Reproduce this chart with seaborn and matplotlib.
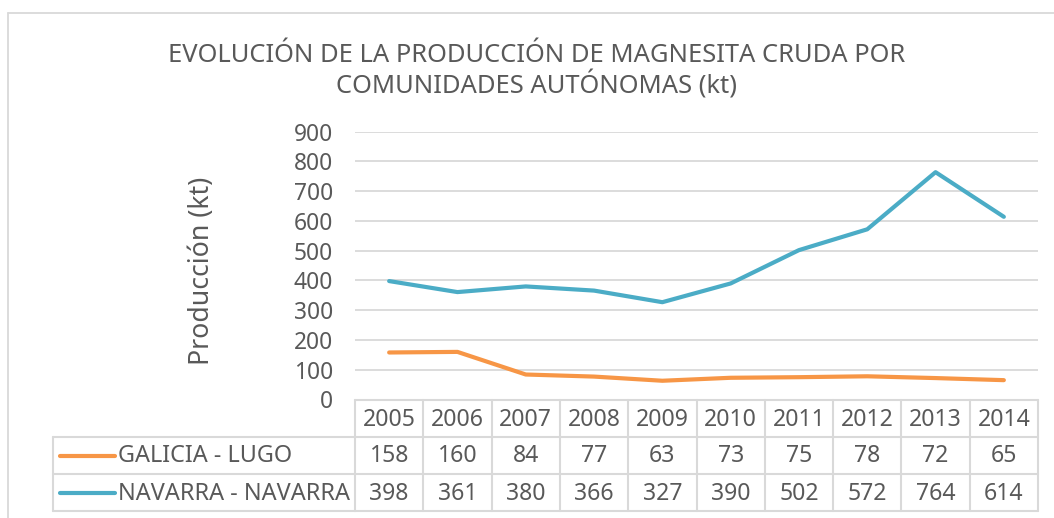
import matplotlib
matplotlib.use("Agg")
import matplotlib.pyplot as plt
import matplotlib.transforms as mtransforms
import seaborn as sns
import pandas as pd

years = ["2005", "2006", "2007", "2008", "2009", "2010", "2011", "2012", "2013", "2014"]
series_names = ["GALICIA - LUGO", "NAVARRA - NAVARRA"]
galicia = [158, 160, 84, 77, 63, 73, 75, 78, 72, 65]
navarra = [398, 361, 380, 366, 327, 390, 502, 572, 764, 614]
yticks = [0, 100, 200, 300, 400, 500, 600, 700, 800, 900]
title = "EVOLUCIÓN DE LA PRODUCCIÓN DE MAGNESITA CRUDA POR\nCOMUNIDADES AUTÓNOMAS (kt)"
ylabel = "Producción (kt)"

colors = {series_names[0]: "#F79646", series_names[1]: "#4BACC6"}
TXT = "#595959"
GRID = "#D9D9D9"

sns.set_theme(style="white")
plt.rcParams["font.family"] = ["Noto Sans", "DejaVu Sans"]

W, H = 1054, 518
fig = plt.figure(figsize=(W / 100, H / 100), dpi=100)

# overlay axes in pixel coordinates
ov = fig.add_axes([0, 0, 1, 1])
ov.set_xlim(0, W)
ov.set_ylim(H, 0)
ov.axis("off")

left_px, right_px = 355, 1038
top_px, bot_px = 131.7, 399.5
ax = fig.add_axes([left_px / W, 1 - bot_px / H, (right_px - left_px) / W, (bot_px - top_px) / H])
ax.set_facecolor("none")

df = pd.DataFrame({
    "idx": list(range(len(years))) * 2,
    "value": galicia + navarra,
    "series": [series_names[0]] * len(years) + [series_names[1]] * len(years),
})
sns.lineplot(data=df, x="idx", y="value", hue="series", palette=colors, linewidth=3,
             ax=ax, legend=False, solid_capstyle="round", zorder=3)
ax.set_xlim(-0.5, len(years) - 0.5)
ax.set_ylim(0, 900)
ax.set_yticks(yticks)
ax.set_yticklabels([str(v) for v in yticks], fontsize=16.4, color=TXT)
ax.tick_params(axis="y", length=0, pad=16)
ax.set_xticks([])
ax.set_xlabel("")
ax.set_ylabel("")
for s in ax.spines.values():
    s.set_visible(False)
for v in yticks[1:]:
    ax.axhline(v, color=GRID, lw=1.3, zorder=1)

# chart border
ov.plot([8, 8], [13, H], color=GRID, lw=1.3)
ov.plot([8, W], [13, 13], color=GRID, lw=1.3)

# title and y label
ov.text(537, 71, title, ha="center", va="center", fontsize=18.4, color=TXT, linespacing=1.12)
ov.text(202, 271, ylabel, ha="center", va="center", rotation=90, fontsize=19.2, color=TXT)

# data table
tr = mtransforms.blended_transform_factory(ax.transData, ov.transData)
rows_y = [400, 437, 474, 511]
n = len(years)
x0, x1 = -0.5, n - 0.5
legend_left = 53
tlw = 1.5
ax.plot([x0, x1], [rows_y[0]] * 2, transform=tr, color=GRID, lw=tlw, clip_on=False)
for yy in rows_y[1:]:
    ov.plot([legend_left, left_px], [yy, yy], color=GRID, lw=tlw)
    ax.plot([x0, x1], [yy, yy], transform=tr, color=GRID, lw=tlw, clip_on=False)
ov.plot([legend_left, legend_left], [rows_y[1], rows_y[3]], color=GRID, lw=tlw)
for i in range(n + 1):
    ax.plot([i - 0.5, i - 0.5], [rows_y[0], rows_y[3]], transform=tr, color=GRID, lw=tlw, clip_on=False)

TFS = 16.6
for i, yv in enumerate(years):
    ax.text(i, (rows_y[0] + rows_y[1]) / 2 + 1, yv, transform=tr, ha="center", va="center",
            fontsize=TFS, color=TXT, clip_on=False)
for r, (name, vals) in enumerate(zip(series_names, [galicia, navarra])):
    yc = (rows_y[r + 1] + rows_y[r + 2]) / 2
    ov.plot([60, 115], [yc, yc], color=colors[name], lw=3, solid_capstyle="round")
    ov.text(118, yc + 1, name, ha="left", va="center", fontsize=16.9, color=TXT)
    for i, v in enumerate(vals):
        ax.text(i, yc + 1, str(v), transform=tr, ha="center", va="center",
                fontsize=TFS, color=TXT, clip_on=False)

fig.savefig("out.png", dpi=100, facecolor="white")
